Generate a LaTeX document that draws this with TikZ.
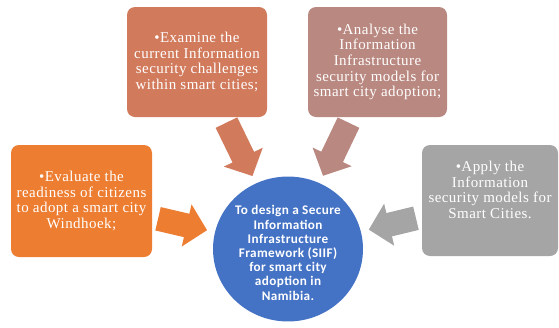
\documentclass[tikz,border=0pt]{standalone}
\usepackage{fontspec}
\setmainfont{Liberation Serif}
\newfontfamily\calib{Carlito}
\usetikzlibrary{shapes.geometric,arrows.meta}
\definecolor{orng}{HTML}{ED7D31}
\definecolor{terra}{HTML}{D17A5C}
\definecolor{rose}{HTML}{B98880}
\definecolor{grey}{HTML}{A5A5A5}
\definecolor{blu}{HTML}{4472C4}

\begin{document}
\begin{tikzpicture}[x=1pt, y=-1pt,
  box/.style={rounded corners=8pt, text=white, align=center, inner sep=0pt,
    font=\addfontfeature{LetterSpace=3}\fontsize{15}{15.6}\selectfont},
  goal/.style={ellipse, fill=blu, text=white, align=center, inner sep=0pt,
    minimum width=150pt, minimum height=137pt,
    font=\calib\bfseries\addfontfeature{LetterSpace=3}\fontsize{13.2}{14.2}\selectfont},
  bigarr/.style={line width=24pt, -{Triangle[length=21pt,width=42pt]},
    shorten <=6pt, shorten >=8pt}]

  \useasboundingbox (0,0) rectangle (559,327);

  \node[box, fill=orng, minimum width=141pt, minimum height=112pt] (l) at (81.5, 201)
    {•Evaluate the\\readiness of citizens\\to adopt a smart city\\Windhoek;};
  \node[box, fill=terra, minimum width=140pt, minimum height=110pt] (tl) at (197, 62)
    {•Examine the\\current Information\\security challenges\\within smart cities;};
  \node[box, fill=rose, minimum width=139pt, minimum height=110pt] (tr) at (377.5, 62)
    {•Analyse the\\Information\\Infrastructure\\security models for\\smart city adoption;};
  \node[box, fill=grey, minimum width=136pt, minimum height=111pt] (r) at (490, 200.5)
    {•Apply the\\Information\\security models for\\Smart Cities.\\[6pt]};
  \node[goal] (c) at (288, 249)
    {\\[3pt]To design a Secure\\Information\\Infrastructure\\Framework (SIIF)\\for smart city\\adoption in\\Namibia.};

  \draw[bigarr, orng] (l) -- (c);
  \draw[bigarr, terra] (tl) -- (c);
  \draw[bigarr, rose] (tr) -- (c);
  \draw[bigarr, grey] (r) -- (c);

\end{tikzpicture}
\end{document}
